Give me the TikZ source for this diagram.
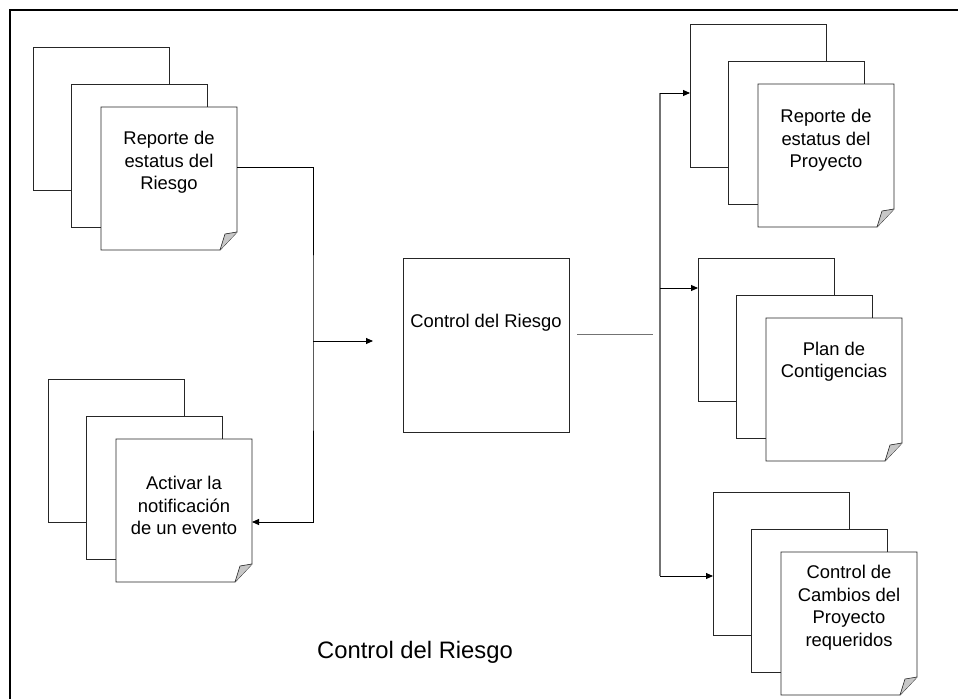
\documentclass[tikz,border=0pt]{standalone}
\usepackage{fontspec}
\setmainfont{Liberation Sans}
\usetikzlibrary{positioning,arrows.meta}

\begin{document}
\begin{tikzpicture}[x=1pt, y=-1pt, >={Triangle[length=7pt,width=6pt]},
  page/.style = {draw=black!85, fill=white, line width=0.9pt, minimum width=136pt, minimum height=143pt, inner sep=0pt, outer sep=0pt},
  front/.style = {page, draw=none},
  txt/.style = {align=center, font=\fontsize{18.4}{22.5}\selectfont},
  box/.style = {draw=black!85, line width=0.9pt, minimum width=166pt, minimum height=174pt, inner sep=0pt, outer sep=0pt},
  link/.style = {line width=0.9pt, ->}]
\useasboundingbox (0,0) rectangle (958,699);
\draw[line width=2pt] (9.5,699) -- (9.5,9.5) -- (958,9.5);

% left stacks
\node[page] (1a) at (101,118.5) {};
\node[page] (1b) [below right=37pt and 38pt of 1a.north west] {};
\node[front] (1) [below right=23pt and 30pt of 1b.north west, label={[txt,yshift=16pt]center:Reporte de\\estatus del\\Riesgo}] {};

\node[page] (2a) at (116,450.5) {};
\node[page] (2b) [below right=37pt and 38pt of 2a.north west] {};
\node[front] (2) [below right=23pt and 30pt of 2b.north west, label={[txt,yshift=5pt]center:Activar la\\notificación\\de un evento}] {};

% right stacks
\node[page] (3a) at (758,95.5) {};
\node[page] (3b) [below right=37pt and 38pt of 3a.north west] {};
\node[front] (3) [below right=23pt and 30pt of 3b.north west, label={[txt,yshift=15pt]center:Reporte de\\estatus del\\Proyecto}] {};

\node[page] (4a) at (766,329.5) {};
\node[page] (4b) [below right=37pt and 38pt of 4a.north west] {};
\node[front] (4) [below right=23pt and 30pt of 4b.north west, label={[txt,yshift=28pt]center:Plan de\\Contigencias}] {};

\node[page] (5a) at (781,563.5) {};
\node[page] (5b) [below right=37pt and 38pt of 5a.north west] {};
\node[front] (5) [below right=23pt and 30pt of 5b.north west, label={[txt,yshift=16pt]center:Control de\\Cambios del\\Proyecto\\requeridos}] {};

% front pages with folded corner
\foreach \n in {1,2,3,4,5} {
  \draw[black!85, line width=0.9pt] (\n.north west) -- (\n.north east) -- ([yshift=18pt]\n.south east) -- ([xshift=-17pt]\n.south east) -- (\n.south west) -- cycle;
  \filldraw[draw=black!85, fill=black!22, line width=0.6pt] ([yshift=18pt]\n.south east) -- ([shift={(-12pt,16pt)}]\n.south east) -- ([xshift=-17pt]\n.south east);
}

% center
\node[box, label={[txt,yshift=22pt]center:Control del Riesgo}] (c) at (486,345) {};
\node[font=\fontsize{23.8}{28}\selectfont] (t) at (415,652) {Control del Riesgo};

\coordinate (j1) at (313,341);
\coordinate (j2) at (660,334);

\draw[link] ([yshift=11.5pt]1.east) -| (j1) |- ([yshift=-11.5pt]2.east);
\draw[link] (j1) -- ([xshift=-30pt]c.west |- j1);
\draw[black!55, line width=1pt] ([xshift=8pt]c.east |- j2) -- ([xshift=-7pt]j2);

\draw[black!55, line width=1.2pt] ([yshift=2.5pt]3a.west -| j2) -- ([yshift=-12.5pt]5a.west -| j2);
\draw[link] ([yshift=2.5pt]3a.west -| j2) -- ([yshift=2.5pt]3a.west);
\draw[link] ([yshift=41.5pt]4a.west -| j2) -- ([yshift=41.5pt]4a.west);
\draw[link] ([yshift=-12.5pt]5a.west -| j2) -- ([yshift=-12.5pt]5a.west);
\end{tikzpicture}
\end{document}
